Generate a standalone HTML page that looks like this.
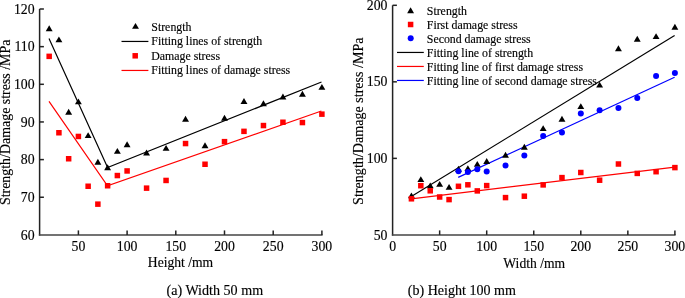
<!DOCTYPE html>
<html><head><meta charset="utf-8"><style>
html,body{margin:0;padding:0;background:#fff;}
body{width:685px;height:298px;overflow:hidden;}
svg{display:block;will-change:transform;}
text{font-family:"Liberation Serif",serif;fill:#000;stroke:#000;stroke-width:0.15px;}
</style></head><body>
<svg width="685" height="298" viewBox="0 0 685 298">
<path d="M39.6 9.0V235.6" fill="none" stroke="#222" stroke-width="1.5"/>
<path d="M38.85 234.9H322.6" fill="none" stroke="#444" stroke-width="1.5"/>
<path d="M39.6 197.25H43.9" stroke="#222" stroke-width="1.5"/>
<path d="M39.6 159.60H43.9" stroke="#222" stroke-width="1.5"/>
<path d="M39.6 121.95H43.9" stroke="#222" stroke-width="1.5"/>
<path d="M39.6 84.30H43.9" stroke="#222" stroke-width="1.5"/>
<path d="M39.6 46.65H43.9" stroke="#222" stroke-width="1.5"/>
<path d="M39.6 9.00H43.9" stroke="#222" stroke-width="1.5"/>
<path d="M78.40 234.9V230.4" stroke="#222" stroke-width="1.5"/>
<path d="M127.10 234.9V230.4" stroke="#222" stroke-width="1.5"/>
<path d="M175.80 234.9V230.4" stroke="#222" stroke-width="1.5"/>
<path d="M224.50 234.9V230.4" stroke="#222" stroke-width="1.5"/>
<path d="M273.20 234.9V230.4" stroke="#222" stroke-width="1.5"/>
<path d="M321.90 234.9V230.4" stroke="#222" stroke-width="1.5"/>
<text transform="translate(34.60 239.50) scale(1 1.065)" text-anchor="end" font-size="13.8">60</text>
<text transform="translate(34.60 201.85) scale(1 1.065)" text-anchor="end" font-size="13.8">70</text>
<text transform="translate(34.60 164.20) scale(1 1.065)" text-anchor="end" font-size="13.8">80</text>
<text transform="translate(34.60 126.55) scale(1 1.065)" text-anchor="end" font-size="13.8">90</text>
<text transform="translate(34.60 88.90) scale(1 1.065)" text-anchor="end" font-size="13.8">100</text>
<text transform="translate(34.60 51.25) scale(1 1.065)" text-anchor="end" font-size="13.8">110</text>
<text transform="translate(34.60 13.60) scale(1 1.065)" text-anchor="end" font-size="13.8">120</text>
<text transform="translate(78.40 250.70) scale(1 1.065)" text-anchor="middle" font-size="13.8">50</text>
<text transform="translate(127.10 250.70) scale(1 1.065)" text-anchor="middle" font-size="13.8">100</text>
<text transform="translate(175.80 250.70) scale(1 1.065)" text-anchor="middle" font-size="13.8">150</text>
<text transform="translate(224.50 250.70) scale(1 1.065)" text-anchor="middle" font-size="13.8">200</text>
<text transform="translate(273.20 250.70) scale(1 1.065)" text-anchor="middle" font-size="13.8">250</text>
<text transform="translate(321.90 250.70) scale(1 1.065)" text-anchor="middle" font-size="13.8">300</text>
<path d="M49.0 38.6L107.6 167.5L321.5 82.0" fill="none" stroke="#000" stroke-width="1.2"/>
<path d="M49.0 101.3L107.5 185.8L321.4 111.0" fill="none" stroke="#f00" stroke-width="1.2"/>
<path d="M49.18 25.25L52.63 31.15L45.73 31.15Z" fill="#000"/>
<path d="M58.92 36.45L62.37 42.35L55.47 42.35Z" fill="#000"/>
<path d="M68.66 108.85L72.11 114.75L65.21 114.75Z" fill="#000"/>
<path d="M78.40 98.45L81.85 104.35L74.95 104.35Z" fill="#000"/>
<path d="M88.14 132.15L91.59 138.05L84.69 138.05Z" fill="#000"/>
<path d="M97.88 158.85L101.33 164.75L94.43 164.75Z" fill="#000"/>
<path d="M107.62 164.35L111.07 170.25L104.17 170.25Z" fill="#000"/>
<path d="M117.36 147.95L120.81 153.85L113.91 153.85Z" fill="#000"/>
<path d="M127.10 141.25L130.55 147.15L123.65 147.15Z" fill="#000"/>
<path d="M146.58 149.55L150.03 155.45L143.13 155.45Z" fill="#000"/>
<path d="M166.06 144.95L169.51 150.85L162.61 150.85Z" fill="#000"/>
<path d="M185.54 115.75L188.99 121.65L182.09 121.65Z" fill="#000"/>
<path d="M205.02 142.35L208.47 148.25L201.57 148.25Z" fill="#000"/>
<path d="M224.50 114.75L227.95 120.65L221.05 120.65Z" fill="#000"/>
<path d="M243.98 98.05L247.43 103.95L240.53 103.95Z" fill="#000"/>
<path d="M263.46 100.25L266.91 106.15L260.01 106.15Z" fill="#000"/>
<path d="M282.94 93.55L286.39 99.45L279.49 99.45Z" fill="#000"/>
<path d="M302.42 90.85L305.87 96.75L298.97 96.75Z" fill="#000"/>
<path d="M321.90 83.95L325.35 89.85L318.45 89.85Z" fill="#000"/>
<rect x="46.43" y="53.60" width="5.5" height="5.5" fill="#f00"/>
<rect x="56.17" y="130.00" width="5.5" height="5.5" fill="#f00"/>
<rect x="65.91" y="156.00" width="5.5" height="5.5" fill="#f00"/>
<rect x="75.65" y="133.70" width="5.5" height="5.5" fill="#f00"/>
<rect x="85.39" y="183.50" width="5.5" height="5.5" fill="#f00"/>
<rect x="95.13" y="201.40" width="5.5" height="5.5" fill="#f00"/>
<rect x="104.87" y="183.00" width="5.5" height="5.5" fill="#f00"/>
<rect x="114.61" y="172.80" width="5.5" height="5.5" fill="#f00"/>
<rect x="124.35" y="168.20" width="5.5" height="5.5" fill="#f00"/>
<rect x="143.83" y="185.40" width="5.5" height="5.5" fill="#f00"/>
<rect x="163.31" y="177.70" width="5.5" height="5.5" fill="#f00"/>
<rect x="182.79" y="140.80" width="5.5" height="5.5" fill="#f00"/>
<rect x="202.27" y="161.50" width="5.5" height="5.5" fill="#f00"/>
<rect x="221.75" y="138.90" width="5.5" height="5.5" fill="#f00"/>
<rect x="241.23" y="128.60" width="5.5" height="5.5" fill="#f00"/>
<rect x="260.71" y="122.80" width="5.5" height="5.5" fill="#f00"/>
<rect x="280.19" y="119.50" width="5.5" height="5.5" fill="#f00"/>
<rect x="299.67" y="119.80" width="5.5" height="5.5" fill="#f00"/>
<rect x="319.15" y="111.40" width="5.5" height="5.5" fill="#f00"/>
<path d="M135.50 22.95L138.95 28.85L132.05 28.85Z" fill="#000"/>
<text x="151.3" y="30.9" font-size="11.85">Strength</text>
<path d="M121.5 41.45H148.4" stroke="#000" stroke-width="1.2"/>
<text x="151.3" y="45.2" font-size="11.85">Fitting lines of strength</text>
<rect x="132.45" y="53.05" width="5.5" height="5.5" fill="#f00"/>
<text x="151.3" y="59.8" font-size="11.85">Damage stress</text>
<path d="M121.5 70.45H148.4" stroke="#f00" stroke-width="1.2"/>
<text x="151.3" y="74.4" font-size="11.85">Fitting lines of damage stress</text>
<text x="180.5" y="267.4" text-anchor="middle" font-size="13.6">Height /mm</text>
<text x="214.8" y="295.0" text-anchor="middle" font-size="14.1">(a) Width 50 mm</text>
<text transform="translate(10.0 122.35) rotate(-90)" text-anchor="middle" font-size="13.93">Strength/Damage stress /MPa</text>
<path d="M392.6 5.3V235.6" fill="none" stroke="#222" stroke-width="1.5"/>
<path d="M391.85 234.9H675.6" fill="none" stroke="#444" stroke-width="1.5"/>
<path d="M392.6 158.37H396.9" stroke="#222" stroke-width="1.5"/>
<path d="M392.6 81.83H396.9" stroke="#222" stroke-width="1.5"/>
<path d="M392.6 5.30H396.9" stroke="#222" stroke-width="1.5"/>
<path d="M439.65 234.9V230.4" stroke="#222" stroke-width="1.5"/>
<path d="M486.70 234.9V230.4" stroke="#222" stroke-width="1.5"/>
<path d="M533.75 234.9V230.4" stroke="#222" stroke-width="1.5"/>
<path d="M580.80 234.9V230.4" stroke="#222" stroke-width="1.5"/>
<path d="M627.85 234.9V230.4" stroke="#222" stroke-width="1.5"/>
<path d="M674.90 234.9V230.4" stroke="#222" stroke-width="1.5"/>
<text transform="translate(387.50 239.50) scale(1 1.065)" text-anchor="end" font-size="13.8">50</text>
<text transform="translate(387.50 162.97) scale(1 1.065)" text-anchor="end" font-size="13.8">100</text>
<text transform="translate(387.50 86.43) scale(1 1.065)" text-anchor="end" font-size="13.8">150</text>
<text transform="translate(387.50 9.90) scale(1 1.065)" text-anchor="end" font-size="13.8">200</text>
<text transform="translate(392.60 250.70) scale(1 1.065)" text-anchor="middle" font-size="13.8">0</text>
<text transform="translate(439.65 250.70) scale(1 1.065)" text-anchor="middle" font-size="13.8">50</text>
<text transform="translate(486.70 250.70) scale(1 1.065)" text-anchor="middle" font-size="13.8">100</text>
<text transform="translate(533.75 250.70) scale(1 1.065)" text-anchor="middle" font-size="13.8">150</text>
<text transform="translate(580.80 250.70) scale(1 1.065)" text-anchor="middle" font-size="13.8">200</text>
<text transform="translate(627.85 250.70) scale(1 1.065)" text-anchor="middle" font-size="13.8">250</text>
<text transform="translate(674.90 250.70) scale(1 1.065)" text-anchor="middle" font-size="13.8">300</text>
<path d="M411.3 196.5L674.6 35.4" stroke="#000" stroke-width="1.2"/>
<path d="M411.3 198.8L674.8 167.2" stroke="#f00" stroke-width="1.2"/>
<path d="M458.2 177.4L674.6 77.2" stroke="#00f" stroke-width="1.2"/>
<path d="M411.42 192.45L414.87 198.35L407.97 198.35Z" fill="#000"/>
<path d="M420.83 176.15L424.28 182.05L417.38 182.05Z" fill="#000"/>
<path d="M430.24 182.45L433.69 188.35L426.79 188.35Z" fill="#000"/>
<path d="M439.65 180.95L443.10 186.85L436.20 186.85Z" fill="#000"/>
<path d="M449.06 183.95L452.51 189.85L445.61 189.85Z" fill="#000"/>
<path d="M458.47 165.85L461.92 171.75L455.02 171.75Z" fill="#000"/>
<path d="M467.88 165.15L471.33 171.05L464.43 171.05Z" fill="#000"/>
<path d="M477.29 160.95L480.74 166.85L473.84 166.85Z" fill="#000"/>
<path d="M486.70 158.05L490.15 163.95L483.25 163.95Z" fill="#000"/>
<path d="M505.52 151.75L508.97 157.65L502.07 157.65Z" fill="#000"/>
<path d="M524.34 143.85L527.79 149.75L520.89 149.75Z" fill="#000"/>
<path d="M543.16 125.15L546.61 131.05L539.71 131.05Z" fill="#000"/>
<path d="M561.98 115.85L565.43 121.75L558.53 121.75Z" fill="#000"/>
<path d="M580.80 103.15L584.25 109.05L577.35 109.05Z" fill="#000"/>
<path d="M599.62 81.65L603.07 87.55L596.17 87.55Z" fill="#000"/>
<path d="M618.44 45.25L621.89 51.15L614.99 51.15Z" fill="#000"/>
<path d="M637.26 35.85L640.71 41.75L633.81 41.75Z" fill="#000"/>
<path d="M656.08 33.15L659.53 39.05L652.63 39.05Z" fill="#000"/>
<path d="M674.90 23.85L678.35 29.75L671.45 29.75Z" fill="#000"/>
<rect x="408.67" y="196.05" width="5.5" height="5.5" fill="#f00"/>
<rect x="418.08" y="182.95" width="5.5" height="5.5" fill="#f00"/>
<rect x="427.49" y="188.05" width="5.5" height="5.5" fill="#f00"/>
<rect x="436.90" y="194.25" width="5.5" height="5.5" fill="#f00"/>
<rect x="446.31" y="196.85" width="5.5" height="5.5" fill="#f00"/>
<rect x="455.72" y="183.55" width="5.5" height="5.5" fill="#f00"/>
<rect x="465.13" y="182.05" width="5.5" height="5.5" fill="#f00"/>
<rect x="474.54" y="188.15" width="5.5" height="5.5" fill="#f00"/>
<rect x="483.95" y="182.85" width="5.5" height="5.5" fill="#f00"/>
<rect x="502.77" y="194.85" width="5.5" height="5.5" fill="#f00"/>
<rect x="521.59" y="193.45" width="5.5" height="5.5" fill="#f00"/>
<rect x="540.41" y="182.15" width="5.5" height="5.5" fill="#f00"/>
<rect x="559.23" y="174.85" width="5.5" height="5.5" fill="#f00"/>
<rect x="578.05" y="169.75" width="5.5" height="5.5" fill="#f00"/>
<rect x="596.87" y="177.45" width="5.5" height="5.5" fill="#f00"/>
<rect x="615.69" y="161.25" width="5.5" height="5.5" fill="#f00"/>
<rect x="634.51" y="170.65" width="5.5" height="5.5" fill="#f00"/>
<rect x="653.33" y="168.95" width="5.5" height="5.5" fill="#f00"/>
<rect x="672.15" y="164.85" width="5.5" height="5.5" fill="#f00"/>
<circle cx="458.47" cy="171.20" r="3.0" fill="#00f"/>
<circle cx="467.88" cy="172.00" r="3.0" fill="#00f"/>
<circle cx="477.29" cy="169.30" r="3.0" fill="#00f"/>
<circle cx="486.70" cy="171.60" r="3.0" fill="#00f"/>
<circle cx="505.52" cy="165.50" r="3.0" fill="#00f"/>
<circle cx="524.34" cy="155.40" r="3.0" fill="#00f"/>
<circle cx="543.16" cy="136.00" r="3.0" fill="#00f"/>
<circle cx="561.98" cy="132.40" r="3.0" fill="#00f"/>
<circle cx="580.80" cy="113.60" r="3.0" fill="#00f"/>
<circle cx="599.62" cy="110.30" r="3.0" fill="#00f"/>
<circle cx="618.44" cy="107.90" r="3.0" fill="#00f"/>
<circle cx="637.26" cy="97.90" r="3.0" fill="#00f"/>
<circle cx="656.08" cy="76.10" r="3.0" fill="#00f"/>
<circle cx="674.90" cy="73.05" r="3.0" fill="#00f"/>
<path d="M410.60 7.25L414.05 13.15L407.15 13.15Z" fill="#000"/>
<text x="426.8" y="14.8" font-size="11.85">Strength</text>
<rect x="407.85" y="21.75" width="5.5" height="5.5" fill="#f00"/>
<text x="426.8" y="28.7" font-size="11.85">First damage stress</text>
<circle cx="410.70" cy="38.30" r="3.0" fill="#00f"/>
<text x="426.8" y="42.5" font-size="11.85">Second damage stress</text>
<path d="M397.0 52.45H423.8" stroke="#000" stroke-width="1.2"/>
<text x="426.8" y="56.8" font-size="11.85">Fitting line of strength</text>
<path d="M397.0 66.45H423.8" stroke="#f00" stroke-width="1.2"/>
<text x="426.8" y="70.7" font-size="11.85">Fitting line of first damage stress</text>
<path d="M397.0 80.45H423.8" stroke="#00f" stroke-width="1.2"/>
<text x="426.8" y="84.5" font-size="11.85">Fitting line of second damage stress</text>
<text x="534.2" y="268.3" text-anchor="middle" font-size="13.6">Width /mm</text>
<text x="461.8" y="294.8" text-anchor="middle" font-size="14.05">(b) Height 100 mm</text>
<text transform="translate(362.5 121.15) rotate(-90)" text-anchor="middle" font-size="14.1">Strength/Damage stress /MPa</text>
</svg>
</body></html>
